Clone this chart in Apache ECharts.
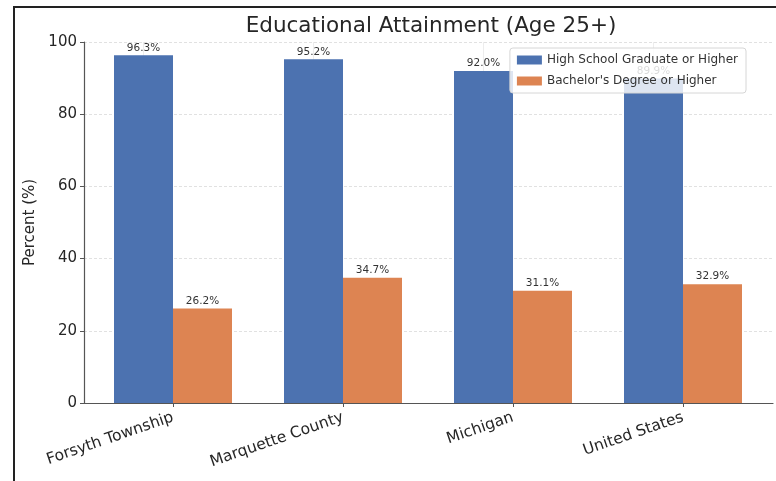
<!DOCTYPE html>
<html>
<head>
<meta charset="utf-8">
<script src="https://cdn.jsdelivr.net/npm/echarts@6/dist/echarts.min.js"></script>
<style>
  html, body { margin: 0; padding: 0; background: #fff; }
  #chart { width: 776px; height: 481px; }
</style>
</head>
<body>
<div id="chart"></div>
<script>
// Educational attainment, population aged 25 and over
const places = ['Forsyth Township', 'Marquette County', 'Michigan', 'United States'];
const highSchoolOrHigher = [96.3, 95.2, 92.0, 89.9];
const bachelorsOrHigher = [26.2, 34.7, 31.1, 32.9];
const yTicks = [0, 20, 40, 60, 80, 100];

const FONT = 'DejaVu Sans';
const BLUE = '#4C72B0';
const ORANGE = '#DD8452';
const AXIS = '#555';

const chart = echarts.init(document.getElementById('chart'), null, { renderer: 'canvas' });

const valueLabel = {
  show: true,
  position: 'top',
  distance: 2,
  fontFamily: FONT,
  fontSize: 10.5,
  color: '#333',
  formatter: p => p.value.toFixed(1) + '%'
};

const yMin = yTicks[0];
const yMax = yTicks[yTicks.length - 1];

chart.setOption({
  animation: false,
  backgroundColor: '#fff',
  textStyle: { fontFamily: FONT },
  title: {
    text: 'Educational Attainment (Age 25+)',
    left: 426,
    textAlign: 'center',
    top: 10,
    textStyle: { fontFamily: FONT, fontSize: 21.5, fontWeight: 'normal', color: '#262626' }
  },
  legend: {
    orient: 'vertical',
    right: 30,
    top: 48,
    padding: [6, 8, 6, 7],
    icon: 'rect',
    itemWidth: 25,
    itemHeight: 9,
    itemGap: 9,
    backgroundColor: 'rgba(255,255,255,0.82)',
    borderColor: '#d6d6d6',
    borderWidth: 1,
    borderRadius: 3,
    textStyle: { fontFamily: FONT, fontSize: 12, color: '#333' },
    data: ['High School Graduate or Higher', "Bachelor's Degree or Higher"]
  },
  // grid 0: the axes frame (spines, y ticks, horizontal grid)
  // grid 1: the bars, laid out on the category axis
  grid: [
    { left: 84, right: 3, top: 42, bottom: 78, containLabel: false },
    { left: 88, right: 8, top: 42, bottom: 78, containLabel: false }
  ],
  xAxis: [
    {
      gridIndex: 0,
      type: 'value',
      min: 0,
      max: 1,
      axisLine: { show: true, lineStyle: { color: AXIS, width: 1.2 } },
      axisTick: { show: false },
      axisLabel: { show: false },
      splitLine: { show: false }
    },
    {
      gridIndex: 1,
      type: 'category',
      data: places,
      axisLine: { show: false },
      axisTick: { show: true, alignWithLabel: true, length: 4, lineStyle: { color: AXIS } },
      axisLabel: { rotate: 19, fontFamily: FONT, fontSize: 15.5, color: '#262626', margin: 14 },
      splitLine: { show: false }
    }
  ],
  yAxis: [
    {
      gridIndex: 0,
      type: 'value',
      min: yMin,
      max: yMax,
      interval: 20,
      name: 'Percent (%)',
      nameLocation: 'middle',
      nameGap: 45,
      nameTextStyle: { fontFamily: FONT, fontSize: 15, color: '#262626' },
      axisLine: { show: true, lineStyle: { color: AXIS, width: 1.2 } },
      axisTick: { show: true, length: 4, lineStyle: { color: AXIS } },
      axisLabel: { fontFamily: FONT, fontSize: 15, color: '#262626', margin: 7 },
      splitLine: { show: true, lineStyle: { color: '#d9d9d9', type: [3, 2], width: 0.8 } }
    },
    {
      gridIndex: 1,
      type: 'value',
      min: yMin,
      max: yMax,
      show: false
    }
  ],
  graphic: [
    // dark frame along the left and top edges
    { type: 'line', shape: { x1: 14, y1: 7, x2: 14, y2: 481 }, style: { stroke: '#222', lineWidth: 2 }, z: 100 },
    { type: 'line', shape: { x1: 13, y1: 7, x2: 776, y2: 7 }, style: { stroke: '#222', lineWidth: 2 }, z: 100 }
  ],
  series: [
    {
      name: 'High School Graduate or Higher',
      type: 'bar',
      xAxisIndex: 1,
      yAxisIndex: 1,
      data: highSchoolOrHigher,
      barWidth: 59,
      barGap: '0%',
      itemStyle: { color: BLUE },
      label: valueLabel,
      z: 2,
      markLine: {
        silent: true,
        symbol: 'none',
        label: { show: false },
        lineStyle: { color: '#e8e8e8', type: 'solid', width: 0.8 },
        z: 1,
        data: places.map(p => ({ xAxis: p }))
      }
    },
    {
      name: "Bachelor's Degree or Higher",
      type: 'bar',
      xAxisIndex: 1,
      yAxisIndex: 1,
      data: bachelorsOrHigher,
      barWidth: 59,
      barGap: '0%',
      itemStyle: { color: ORANGE },
      label: valueLabel,
      z: 2
    }
  ]
});
</script>
</body>
</html>
